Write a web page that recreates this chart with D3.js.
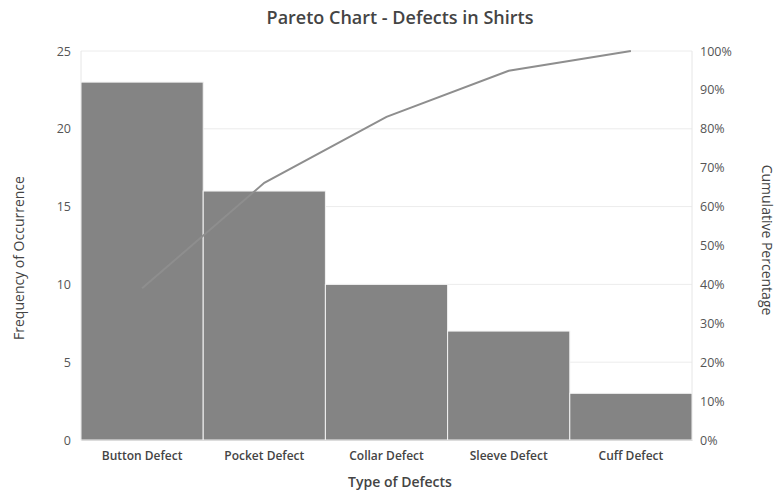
<!DOCTYPE html>
<html>
<head>
<meta charset="utf-8">
<script src="https://cdn.jsdelivr.net/npm/d3@7/dist/d3.min.js"></script>
<style>
  html, body { margin: 0; padding: 0; background: #fff; }
  svg { display: block; }
  text { font-family: "Open Sans", "Noto Sans", sans-serif; }
</style>
</head>
<body>
<svg id="chart" width="777" height="491"></svg>
<script>
// Defect categories and counts, sorted descending for the Pareto view
const categories = ["Button Defect", "Pocket Defect", "Collar Defect", "Sleeve Defect", "Cuff Defect"];
const counts = [23, 16, 10, 7, 3];
const leftTicks = [0, 5, 10, 15, 20, 25];
const rightTicks = [0, 10, 20, 30, 40, 50, 60, 70, 80, 90, 100];

const total = d3.sum(counts);
const cumulative = d3.cumsum(counts).map(v => v / total * 100);

const W = 777, H = 491;
const m = { top: 51, right: 85, bottom: 51, left: 81 };
const svg = d3.select("#chart");

const x = d3.scaleBand().domain(categories).range([m.left, W - m.right]).padding(0);
const y = d3.scaleLinear().domain([0, 25]).range([H - m.bottom, m.top]);
const yPct = d3.scaleLinear().domain([0, 100]).range([H - m.bottom, m.top]);

// Horizontal gridlines
svg.append("g")
  .selectAll("line")
  .data(leftTicks)
  .join("line")
  .attr("x1", m.left).attr("x2", W - m.right)
  .attr("y1", d => y(d)).attr("y2", d => y(d))
  .attr("stroke", "#ececec").attr("stroke-width", 1);

// Plot frame sides
svg.append("line")
  .attr("x1", m.left).attr("x2", m.left)
  .attr("y1", m.top).attr("y2", H - m.bottom)
  .attr("stroke", "#e6e6e6");
svg.append("line")
  .attr("x1", W - m.right).attr("x2", W - m.right)
  .attr("y1", m.top).attr("y2", H - m.bottom)
  .attr("stroke", "#e6e6e6");

// Bars
svg.append("g")
  .selectAll("rect")
  .data(counts)
  .join("rect")
  .attr("x", (d, i) => x(categories[i]))
  .attr("y", d => y(d))
  .attr("width", x.bandwidth())
  .attr("height", d => y(0) - y(d))
  .attr("fill", "#848484")
  .attr("stroke", "#f2f2f2")
  .attr("stroke-width", 1);

// Cumulative percentage line
const line = d3.line()
  .x((d, i) => x(categories[i]) + x.bandwidth() / 2)
  .y(d => yPct(d));
svg.append("path")
  .datum(cumulative)
  .attr("d", line)
  .attr("fill", "none")
  .attr("stroke", "#8e8e8e")
  .attr("stroke-width", 2);

// Left axis
const leftAxis = svg.append("g")
  .attr("transform", `translate(${m.left},0)`)
  .call(d3.axisLeft(y).tickValues(leftTicks).tickSize(0).tickPadding(10));
leftAxis.select(".domain").remove();
leftAxis.selectAll("text").attr("font-size", 12.5).attr("fill", "#555");

// Right axis
const rightAxis = svg.append("g")
  .attr("transform", `translate(${W - m.right},0)`)
  .call(d3.axisRight(yPct).tickValues(rightTicks).tickSize(0).tickPadding(8).tickFormat(d => d + "%"));
rightAxis.select(".domain").remove();
rightAxis.selectAll("text").attr("font-size", 12.5).attr("fill", "#555");

// Bottom axis
const bottomAxis = svg.append("g")
  .attr("transform", `translate(0,${H - m.bottom})`)
  .call(d3.axisBottom(x).tickSize(0).tickPadding(11));
bottomAxis.select(".domain").attr("stroke", "#dcdcdc");
bottomAxis.selectAll("text").attr("font-size", 12).attr("font-weight", 600).attr("fill", "#444");

// Titles
svg.append("text")
  .attr("x", 400).attr("y", 24)
  .attr("text-anchor", "middle")
  .attr("font-size", 18).attr("font-weight", 600).attr("fill", "#444")
  .text("Pareto Chart - Defects in Shirts");

svg.append("text")
  .attr("x", 400).attr("y", 487)
  .attr("text-anchor", "middle")
  .attr("font-size", 14).attr("font-weight", 600).attr("fill", "#444")
  .text("Type of Defects");

svg.append("text")
  .attr("transform", "translate(24,258) rotate(-90)")
  .attr("text-anchor", "middle")
  .attr("font-size", 14).attr("fill", "#444")
  .text("Frequency of Occurrence");

svg.append("text")
  .attr("transform", "translate(762,240) rotate(90)")
  .attr("text-anchor", "middle")
  .attr("font-size", 14).attr("fill", "#444")
  .text("Cumulative Percentage");
</script>
</body>
</html>
